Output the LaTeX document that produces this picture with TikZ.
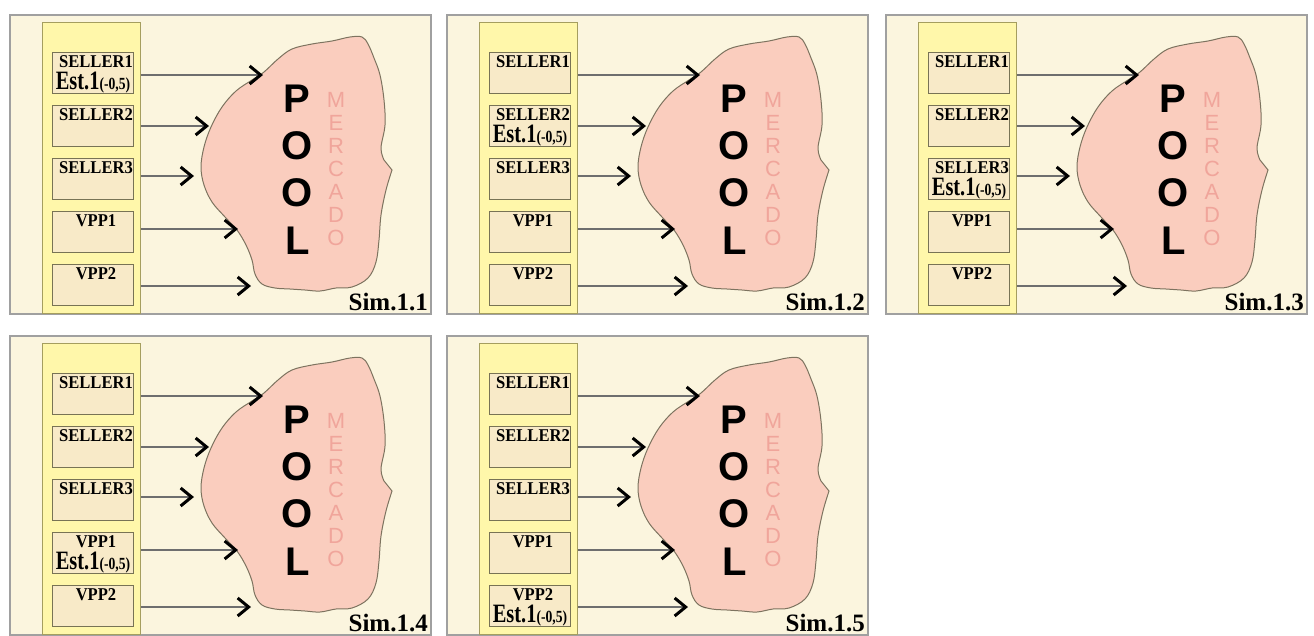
\documentclass[tikz,border=0pt]{standalone}
\usepackage{fontspec}
\setmainfont{Liberation Serif}
\newfontfamily\arialf{Liberation Sans}
\newfontfamily\boxf[FakeStretch=0.92]{Liberation Serif}
\newfontfamily\estf[FakeStretch=0.77]{Liberation Serif}
\newfontfamily\parf[FakeStretch=0.8]{Liberation Serif}
\usetikzlibrary{arrows.meta,calc}
\definecolor{framegray}{RGB}{160,160,160}
\definecolor{cream}{RGB}{251,245,222}
\definecolor{colyellow}{RGB}{255,247,170}
\definecolor{colborder}{RGB}{165,158,95}
\definecolor{boxfill}{RGB}{248,234,200}
\definecolor{boxborder}{RGB}{120,115,85}
\definecolor{cloudfill}{RGB}{250,205,190}
\definecolor{cloudline}{RGB}{125,115,95}
\definecolor{mercado}{RGB}{240,165,155}
\definecolor{shaft}{RGB}{110,110,110}
\tikzset{
 panelframe/.style={draw=framegray, line width=1.5pt, fill=cream, minimum width=421pt, minimum height=299pt, inner sep=0pt, anchor=north west},
 column/.style={draw=colborder, line width=1pt, fill=colyellow, minimum width=98pt, minimum height=291pt, inner sep=0pt, anchor=north west},
 seller/.style={draw=boxborder, line width=1pt, fill=boxfill, minimum width=81pt, minimum height=41pt, inner sep=0pt, anchor=north west},
 boxtext/.style={font=\boxf\bfseries\fontsize{18}{20}\selectfont, inner sep=0pt, anchor=base},
 esttext/.style={font=\estf\bfseries\fontsize{26.5}{28}\selectfont, inner sep=0pt, anchor=base},
 pooltext/.style={font=\arialf\bfseries\fontsize{40}{42}\selectfont, inner sep=0pt, anchor=base},
 mertext/.style={font=\arialf\fontsize{22}{24}\selectfont, text=mercado, inner sep=0pt, anchor=base},
 simtext/.style={font=\bfseries\fontsize{25}{27}\selectfont, inner sep=0pt, anchor=base east},
 cloudshape/.style={draw=cloudline, line width=1pt, fill=cloudfill},
 flow/.style={draw=shaft, line width=1.1pt, -{Straight Barb[length=11pt,width=18pt,line width=3pt,color=black]}},
}
\newcommand\simpanel[4]{%
\begin{scope}[shift={(#1,#2)}]
 \node[panelframe] (f#4) at (9,14) {};
 \node[column] (c#4) at (42,22) {};
 \foreach \t [count=\i] in {SELLER1,SELLER2,SELLER3,VPP1,VPP2}{
   \node[seller] (b#4-\i) at (52,{52+53*(\i-1)}) {};
   \node[boxtext] (l#4-\i) at ($(b#4-\i.north)+(3,15)$) {\t};
   \ifnum\i=#3
     \node[esttext] (e#4-\i) at ($(b#4-\i.north)+(0,37)$) {Est.1{\parf\fontsize{17}{18}\selectfont(-0,5)}};
   \fi
 }
 \draw[cloudshape] plot[smooth, tension=0.6] coordinates {
   (392,170) (386,190) (381,215) (379,240) (376,262) (368,278) (352,287)
   (336,288) (320,291) (305,290) (290,289) (275,288) (262,284) (255,274)
   (252,260) (246,245) (237,230) (225,217) (212,202) (204,185) (201,167)
   (204,147) (211,127) (222,107) (236,91) (252,80) (264,72) (278,59)
   (292,49) (312,44) (332,41) (350,37) (362,37) (368,44) (374,58)
   (380,75) (384,100) (385,125) (381,148) (384,160)} -- cycle;
 \coordinate (t#4-1) at (263,75);
 \coordinate (t#4-2) at (209,126);
 \coordinate (t#4-3) at (194,176);
 \coordinate (t#4-4) at (238,229);
 \coordinate (t#4-5) at (251,286);
 \foreach \k in {1,...,5}{
   \draw[flow] (c#4.east |- t#4-\k) -- (t#4-\k);
 }
 \node[pooltext] (pa#4) at (297,112) {P};
 \node[pooltext] (pb#4) at (297,159) {O};
 \node[pooltext] (pc#4) at (297,206) {O};
 \node[pooltext] (pd#4) at (298,254) {L};
 \foreach \m [count=\j] in {M,E,R,C,A,D,O}{
   \node[mertext] (m#4-\j) at (336,{107+23*(\j-1)}) {\m};
 }
 \node[simtext] (s#4) at (428,310) {Sim.1.#4};
\end{scope}}
\begin{document}
\begin{tikzpicture}[x=1pt,y=-1pt]
\useasboundingbox (0,0) rectangle (1314,635);
\fill[white] (0,0) rectangle (1314,635);
\simpanel{0}{0}{1}{1}
\simpanel{437}{0}{2}{2}
\simpanel{876}{0}{3}{3}
\simpanel{0}{321}{4}{4}
\simpanel{437}{321}{5}{5}
\end{tikzpicture}
\end{document}
